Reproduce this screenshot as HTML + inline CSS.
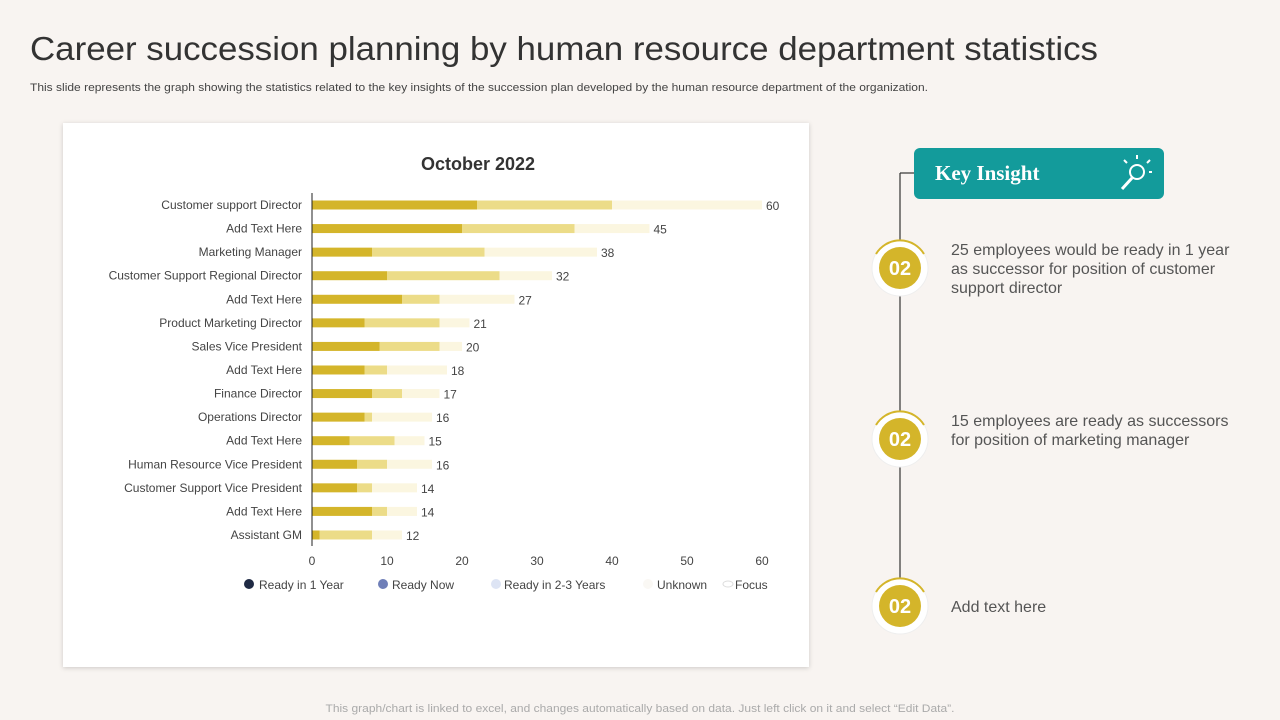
<!DOCTYPE html>
<html><head><meta charset="utf-8"><style>
html,body{margin:0;padding:0;background:#f8f4f1;}
svg{display:block;font-family:"Liberation Sans",sans-serif;}
</style></head><body>
<svg id="page" width="1280" height="720" viewBox="0 0 1280 720">
<defs><filter id="sh" x="-5%" y="-5%" width="110%" height="110%"><feDropShadow dx="0" dy="1" stdDeviation="2.5" flood-color="#000" flood-opacity="0.18"/></filter></defs>
<rect width="1280" height="720" fill="#f8f4f1"/>
<text x="30" y="60" font-size="33" fill="#333" textLength="1068" lengthAdjust="spacingAndGlyphs">Career succession planning by human resource department statistics</text>
<text x="30" y="91" font-size="11" fill="#444" textLength="898" lengthAdjust="spacingAndGlyphs">This slide represents the graph showing the statistics related to the key insights of the succession plan developed by the human resource department of the organization.</text>
<rect x="63" y="123" width="746" height="544" fill="#fff" filter="url(#sh)"/>
<text x="478" y="170" font-size="18" font-weight="bold" fill="#333" text-anchor="middle">October 2022</text>
<g id="chart"></g>
<g id="legend">
<circle cx="249" cy="584" r="5" fill="#1f2a44"/><text x="259" y="589" font-size="12" fill="#444">Ready in 1 Year</text>
<circle cx="383" cy="584" r="5" fill="#6f7fb8"/><text x="392" y="589" font-size="12" fill="#444">Ready Now</text>
<circle cx="496" cy="584" r="5" fill="#dde4f4"/><text x="504" y="589" font-size="12" fill="#444">Ready in 2-3 Years</text>
<circle cx="648" cy="584" r="5" fill="#faf8f4"/><text x="657" y="589" font-size="12" fill="#444">Unknown</text>
<ellipse cx="728" cy="584" rx="5" ry="3" fill="none" stroke="#ddd"/><text x="735" y="589" font-size="12" fill="#444">Focus</text>
</g>
<line x1="900" y1="173" x2="900" y2="595" stroke="#333" stroke-width="1.2"/>
<line x1="900" y1="173" x2="914" y2="173" stroke="#333" stroke-width="1.2"/>
<rect x="914" y="148" width="250" height="51" rx="6" fill="#139b9b"/>
<text x="935" y="180" font-family="Liberation Serif,serif" font-size="21" font-weight="bold" fill="#fff">Key Insight</text>
<g stroke="#fff" fill="none" stroke-width="2">
<circle cx="1137" cy="172" r="7"/><line x1="1132" y1="178" x2="1122" y2="189" stroke-width="3"/>
<line x1="1137" y1="159" x2="1137" y2="155"/><line x1="1127" y1="163" x2="1124" y2="160"/><line x1="1147" y1="163" x2="1150" y2="160"/><line x1="1149" y1="172" x2="1152" y2="172"/>
</g>
<g id="steps"></g>
<text x="640" y="712" font-size="11" fill="#aaa" text-anchor="middle" textLength="629" lengthAdjust="spacingAndGlyphs">This graph/chart is linked to excel, and changes automatically based on data. Just left click on it and select “Edit Data”.</text>
</svg>
<script>
const NS='http://www.w3.org/2000/svg';
const categories=['Customer support Director','Add Text Here','Marketing Manager','Customer Support Regional Director','Add Text Here','Product Marketing Director','Sales Vice President','Add Text Here','Finance Director','Operations Director','Add Text Here','Human Resource Vice President','Customer Support Vice President','Add Text Here','Assistant GM'];
const readyIn1Year=[22,20,8,10,12,7,9,7,8,7,5,6,6,8,1];
const readyNow=[18,15,15,15,5,10,8,3,4,1,6,4,2,2,7];
const readyIn2to3=[20,10,15,7,10,4,3,8,5,8,4,6,6,4,4];
const totals=[60,45,38,32,27,21,20,18,17,16,15,16,14,14,12];
const xTicks=[0,10,20,30,40,50,60];
const colors=['#d4b52a','#ecdc88','#fbf6e0'];
const x0=312,x1=762,xMax=60,yTop=205,yStep=23.57,barH=9;
const xs=v=>x0+(x1-x0)*v/xMax;
const ys=i=>yTop+i*yStep;
const g=document.getElementById('chart');
function mk(tag,attrs){const e=document.createElementNS(NS,tag);for(const k in attrs)e.setAttribute(k,attrs[k]);return e;}
const series=[readyIn1Year,readyNow,readyIn2to3];
const sNames=['ready-1-year','ready-now','ready-2-3-years'];
categories.forEach((c,i)=>{
  const lab=mk('text',{x:302,y:ys(i)+4,'font-size':12,fill:'#444','text-anchor':'end'});
  lab.textContent=c;
  
  
  g.appendChild(lab);
  let acc=0;
  series.forEach((s,k)=>{
    const r=mk('rect',{x:xs(acc),y:ys(i)-barH/2,width:xs(acc+s[i])-xs(acc),height:barH,fill:colors[k]});
    
    
    g.appendChild(r);
    acc+=s[i];
  });
  const v=mk('text',{x:xs(acc)+4,y:ys(i)+5,'font-size':12,fill:'#444'});
  v.textContent=totals[i];
  
  
  g.appendChild(v);
});
const ax=mk('line',{x1:x0,y1:193,x2:x0,y2:546,stroke:'#222','stroke-width':1});


g.appendChild(ax);
xTicks.forEach(t=>{
  const e=mk('text',{x:xs(t),y:565,'font-size':12,fill:'#444','text-anchor':'middle'});
  e.textContent=t;
  
  
  g.appendChild(e);
});
const steps=[{y:268,t:['25 employees would be ready in 1 year','as successor for position of customer','support director']},{y:439,t:['15 employees are ready as successors','for position of marketing manager']},{y:606,t:['Add text here']}];
const sg=document.getElementById('steps');
steps.forEach(s=>{
  const grp=mk('g',{});
  
  
  grp.appendChild(mk('circle',{cx:900,cy:s.y,r:28,fill:'#fff',stroke:'#eee','stroke-width':1}));
  grp.appendChild(mk('path',{d:`M ${900-24} ${s.y-14} A 28 28 0 0 1 ${900+24} ${s.y-14}`,fill:'none',stroke:'#d4b52a','stroke-width':2}));
  grp.appendChild(mk('circle',{cx:900,cy:s.y,r:21,fill:'#d4b52a'}));
  const n=mk('text',{x:900,y:s.y+7,'font-size':20,'font-weight':'bold',fill:'#fff','text-anchor':'middle'});
  n.textContent='02';
  grp.appendChild(n);
  const startY=s.t.length===1?s.y+6:s.y-13;
  s.t.forEach((l,j)=>{
    const e=mk('text',{x:951,y:startY+j*19,'font-size':16,fill:'#555'});
    e.textContent=l;
    grp.appendChild(e);
  });
  sg.appendChild(grp);
});
</script>
</body></html>
